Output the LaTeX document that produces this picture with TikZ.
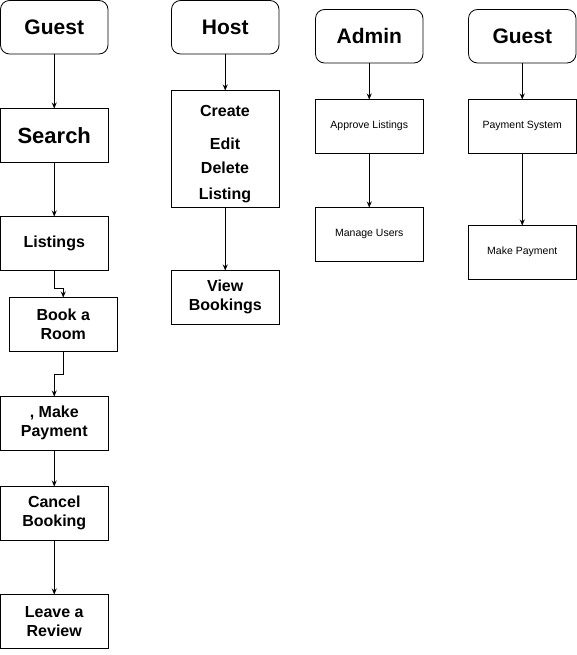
\documentclass[tikz,border=0pt]{standalone}
\usepackage{fontspec}
\setmainfont{Liberation Sans}
\usetikzlibrary{arrows.meta}
\begin{document}
\begin{tikzpicture}[x=1pt,y=-1pt,
  box/.style={draw,line width=0.8pt,outer sep=0pt,minimum width=107.5pt,minimum height=53.5pt,inner sep=1pt,align=center,anchor=north west,font=\bfseries\fontsize{16}{19}\selectfont},
  head/.style={box,rounded corners=9pt,font=\bfseries\fontsize{21}{24}\selectfont},
  small/.style={box,font=\fontsize{10.5}{12}\selectfont},
  arr/.style={draw,line width=0.8pt,-{Stealth[length=6pt,width=5pt]}}]
\useasboundingbox (0,0) rectangle (577,655);
% column 1
\node[head] (g1) at (0.5,0.5) {Guest};
\node[box,font=\bfseries\fontsize{22}{26}\selectfont] (search) at (0.5,108.5) {Search};
\node[box] (list) at (0.5,216.5) {Listings};
\node[box] (book) at (9.5,297.5) {Book a\\Room};
\node[box] (mp1) at (0.5,396.5) {, Make\\Payment};
\node[box] (cancel) at (0.5,486.5) {Cancel\\Booking};
\node[box] (review) at (0.5,594.5) {Leave a\\Review};
% column 2
\node[head] (host) at (171.5,0.5) {Host};
\node[box,minimum height=117pt] (cedl) at (171.5,90.5) {};
\node[font=\bfseries\fontsize{16}{19}\selectfont] (t1) at (225,111) {Create};
\node[font=\bfseries\fontsize{16}{19}\selectfont] (t2) at (225,144) {Edit};
\node[font=\bfseries\fontsize{16}{19}\selectfont] (t3) at (225,168) {Delete};
\node[font=\bfseries\fontsize{16}{19}\selectfont] (t4) at (225,195) {Listing};
\node[box] (view) at (171.5,270.5) {View\\Bookings};
% column 3
\node[head] (admin) at (315.5,9.5) {Admin};
\node[small] (appr) at (315.5,99.5) {Approve Listings};
\node[small] (users) at (315.5,207.5) {Manage Users};
% column 4
\node[head] (g2) at (468.5,9.5) {Guest};
\node[small] (pay) at (468.5,99.5) {Payment System};
\node[small] (mp2) at (468.5,225.5) {Make Payment};
% arrows
\draw[arr] (g1) -- (search);
\draw[arr] (search) -- (list);
\draw[arr] (list.south) |- ++(9,18) coordinate (c1) -- (book.north);
\draw[arr] (book.south) -- ++(0,23) -| (mp1.north);
\draw[arr] (mp1) -- (cancel);
\draw[arr] (cancel) -- (review);
\draw[arr] (host) -- (cedl);
\draw[arr] (cedl) -- (view);
\draw[arr] (admin) -- (appr);
\draw[arr] (appr) -- (users);
\draw[arr] (g2) -- (pay);
\draw[arr] (pay) -- (mp2);
\end{tikzpicture}
\end{document}
